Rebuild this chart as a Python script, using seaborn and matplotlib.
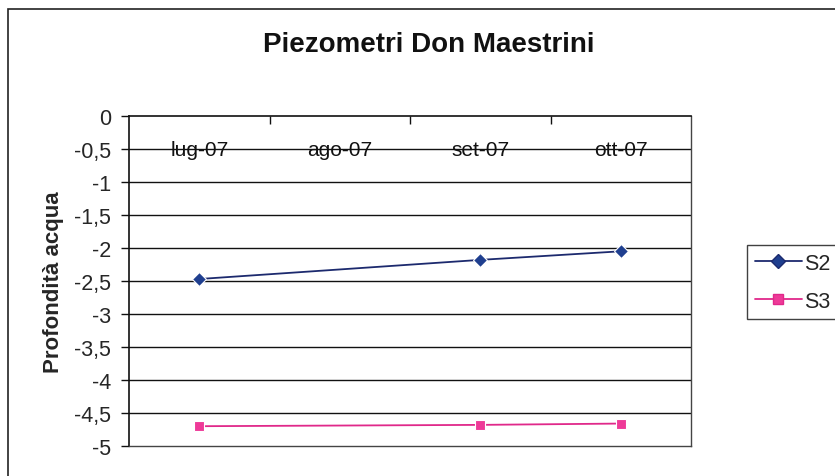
import numpy as np
import pandas as pd
import matplotlib
matplotlib.use("Agg")
import matplotlib.pyplot as plt
import matplotlib.patches as mpatches
import seaborn as sns

# data (ago-07 has no readings)
months = ["lug-07", "ago-07", "set-07", "ott-07"]
s2 = [-2.47, None, -2.18, -2.05]
s3 = [-4.70, None, -4.68, -4.66]
y_ticks = np.arange(0, -5.01, -0.5)

sns.set_theme(style="white")
plt.rcParams["font.family"] = ["Liberation Sans", "DejaVu Sans"]

rows = []
for name, vals in [("S2", s2), ("S3", s3)]:
    for i, v in enumerate(vals):
        if v is not None:
            rows.append({"pos": i, "value": v, "serie": name})
df = pd.DataFrame(rows)

W, H = 835, 477
fig = plt.figure(figsize=(W / 100, H / 100), dpi=100)
ax = fig.add_axes([129 / W, 1 - 447 / H, (691 - 129) / W, (447 - 117) / H])

# chart area border (top and left visible, runs off the image)
fig.patches.append(mpatches.Rectangle((8 / W, -0.2), 1.2, 1.2 - 10 / H,
                                      transform=fig.transFigure, fill=False,
                                      edgecolor="#222222", lw=1.2))

for y in y_ticks[1:-1]:
    ax.axhline(y, color="#111111", lw=1.0, zorder=0)

sns.lineplot(data=df, x="pos", y="value", hue="serie", style="serie",
             palette={"S2": "#1c2a6e", "S3": "#e0288a"},
             markers={"S2": "D", "S3": "s"}, dashes=False,
             markersize=7.5, markeredgewidth=0.8, lw=1.3, ax=ax, legend=False)
for line, face in zip(ax.lines[-2:], ["#1f3f8f", "#ee3a98"]):
    line.set_markerfacecolor(face)

ax.set_xlim(-0.5, len(months) - 0.5)
ax.set_ylim(-5, 0)
ax.set_yticks(y_ticks)
ax.set_yticklabels([f"{t:g}".replace(".", ",") for t in y_ticks], fontsize=15.5)
ax.tick_params(axis="y", left=True, direction="out", length=6, width=1,
               color="#111111", pad=7)

# category axis sits at y=0 (top), ticks between categories
ax.xaxis.set_ticks_position("top")
ax.set_xticks(np.arange(len(months) - 1) + 0.5)
ax.set_xticklabels([])
ax.tick_params(axis="x", top=True, direction="in", length=6, width=1, color="#111111")
for i, m in enumerate(months):
    ax.text(i, -0.5, m, ha="center", va="center", fontsize=15, color="#111111")

ax.set_xlabel("")
ax.set_ylabel("Profondità acqua", fontsize=16, fontweight="bold", va="center")
ax.yaxis.set_label_coords(-(129 - 54) / (691 - 129), 0.5)

for side in ["left", "top"]:
    ax.spines[side].set_color("#111111")
    ax.spines[side].set_linewidth(1.2)
for side in ["right", "bottom"]:
    ax.spines[side].set_color("#444444")
    ax.spines[side].set_linewidth(1.0)

fig.text(429 / W, 1 - 45 / H, "Piezometri Don Maestrini", ha="center", va="center",
         fontsize=20, fontweight="bold", color="#111111")

handles = [
    plt.Line2D([], [], color="#1c2a6e", marker="D", markerfacecolor="#1f3f8f",
               markersize=7, lw=1.3),
    plt.Line2D([], [], color="#e0288a", marker="s", markerfacecolor="#ee3a98",
               markersize=7, lw=1.3),
]
leg = fig.legend(handles, ["S2", "S3"], loc="upper left",
                 bbox_to_anchor=(747 / W, 1 - 246 / H), fontsize=15.5,
                 frameon=True, fancybox=False, borderaxespad=0, borderpad=0.35,
                 handlelength=2.2, handletextpad=0.1, labelspacing=0.8)
leg.get_frame().set_edgecolor("#111111")
leg.get_frame().set_linewidth(1.0)

fig.savefig("out.png", dpi=100)
